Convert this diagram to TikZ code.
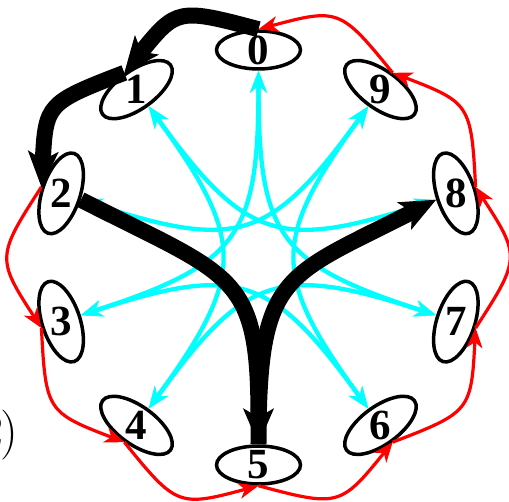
\documentclass[tikz,border=0pt]{standalone}
\usepackage{fontspec}
\newfontfamily\tnr{Liberation Serif}
\usetikzlibrary{shapes.geometric,arrows.meta}
\definecolor{cyanE}{RGB}{0,255,255}
\definecolor{redE}{RGB}{255,0,0}
\begin{document}
\begin{tikzpicture}[x=1pt,y=1pt,
  ell/.style={ellipse,draw,line width=3.5pt,minimum width=84pt,minimum height=38pt,inner sep=0pt},
  lab/.style={font=\tnr\bfseries\fontsize{43}{43}\selectfont,inner sep=0pt},
  blk/.style={line width=16pt,-{Stealth[length=36pt,width=31pt,inset=9pt,line width=1pt]}},
  redarc/.style={color=redE,line width=3.2pt,-{Stealth[length=20pt,width=16pt,inset=6pt,line width=1pt]}},
  cyarc/.style={color=cyanE,line width=4.3pt,{Stealth[length=22pt,width=17pt,inset=7pt,line width=1pt]}-{Stealth[length=22pt,width=17pt,inset=7pt,line width=1pt]}}]
\useasboundingbox (-258.5,-244.5) rectangle (250.5,257.5);
\foreach \k in {0,...,9}{
  \pgfmathsetmacro\th{90+36*\k}
  \node[ell,rotate=36*\k] (n\k) at (\th:207.5) {};
  \node[lab] (t\k) at (n\k) {\k};
}
% cyan chords
\foreach \i in {0,1,3,4,6,7,8,9}{
  \pgfmathtruncatemacro\j{mod(\i+3,10)}
  \pgfmathsetmacro\a{270+36*\i}
  \pgfmathsetmacro\b{270+36*\j}
  \draw[cyarc] (n\i.south) to[out=\a,in=\b,looseness=1.4] (n\j.south);
}
% red outer arcs
\foreach \i in {2,...,9}{
  \pgfmathtruncatemacro\j{mod(\i+1,10)}
  \pgfmathsetmacro\a{90+36*\i+75}
  \pgfmathsetmacro\b{90+36*\j-75}
  \draw[redarc] (n\i.north) to[out=\a,in=\b,looseness=1.5] (n\j.north);
}
% black path
\draw[blk] (n0.north) to[out=165,in=51,looseness=1.5] (n1.north);
\draw[blk] (n1.north) to[out=201,in=87,looseness=1.5] (n2.north);
\draw[blk] (n2.south) to[out=333,in=90,looseness=1.45] (n5.south);
\draw[blk] (n5.south) to[out=90,in=207,looseness=1.45] (n8.south);
\node[font=\fontsize{50}{50}\selectfont,inner sep=0pt,anchor=east] (lbl) at (-240,-177.5) {2\kern-3pt)};
\end{tikzpicture}
\end{document}
